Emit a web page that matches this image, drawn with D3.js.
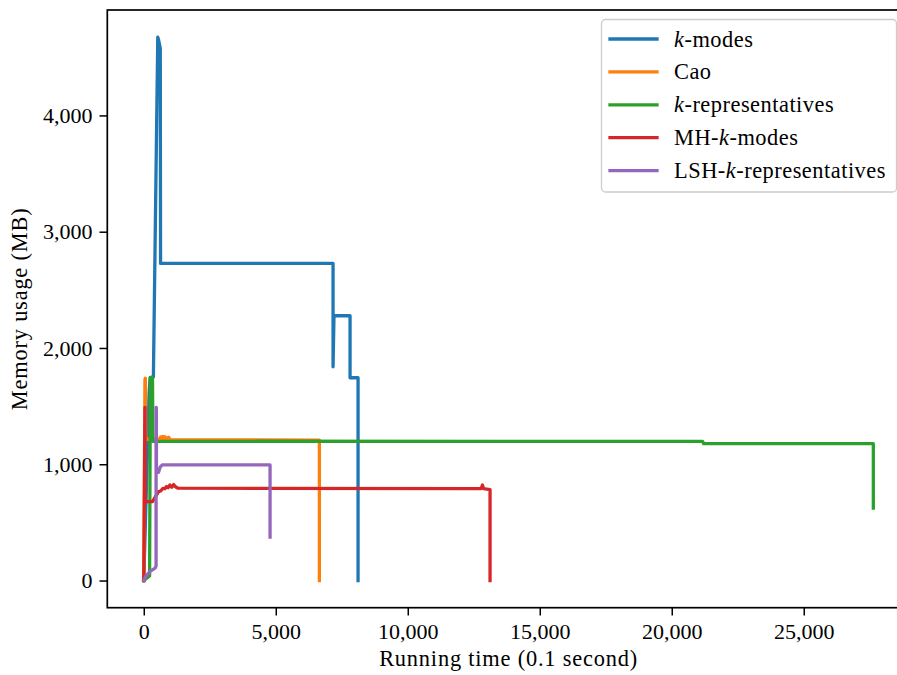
<!DOCTYPE html>
<html>
<head>
<meta charset="utf-8">
<script src="https://cdn.jsdelivr.net/npm/d3@7/dist/d3.min.js"></script>
<style>
  html, body { margin: 0; padding: 0; background: #fff; }
  svg { display: block; }
  text { font-family: "Liberation Serif", "DejaVu Serif", serif; fill: #000; }
</style>
</head>
<body>
<div id="chart"></div>
<script>
// Memory usage over running time for five clustering methods.
// Each series is a list of [time (0.1 s), memory (MB)] samples.
const seriesNames = ["k-modes", "Cao", "k-representatives", "MH-k-modes", "LSH-k-representatives"];
const seriesColors = ["#1f77b4", "#ff7f0e", "#2ca02c", "#d62728", "#9467bd"];

const kModes = [
  [0, 0], [200, 1600], [240, 1745], [364, 1750], [530, 4673], [560, 4650],
  [625, 4576], [636, 2727], [7170, 2727], [7170, 1838], [7205, 2277],
  [7814, 2277], [7814, 1744], [8117, 1744], [8117, 0]
];
const cao = [
  [0, 0], [45, 1730], [60, 1739], [75, 1215], [600, 1215], [640, 1235],
  [680, 1215], [720, 1238], [760, 1215], [800, 1236], [860, 1218], [940, 1232],
  [1000, 1212], [6652, 1208], [6652, 0]
];
const kReps = [
  [0, 0], [220, 40], [250, 1747], [330, 1747], [345, 1198], [21170, 1196],
  [21210, 1177], [27636, 1177], [27636, 622]
];
const mhKModes = [
  [0, 0], [45, 1489], [55, 679], [330, 679], [560, 765], [640, 770],
  [720, 792], [800, 790], [860, 808], [920, 798], [990, 822], [1060, 802],
  [1130, 825], [1200, 806], [1300, 794], [12780, 790], [12830, 822],
  [12870, 790], [13117, 782], [13117, 0]
];
const lshKReps = [
  [0, 0], [100, 45], [250, 80], [430, 106], [466, 125], [466, 1489],
  [475, 1489], [480, 925], [560, 930], [620, 975], [700, 994], [4784, 994],
  [4784, 373]
];
const seriesData = [kModes, cao, kReps, mhKModes, lshKReps];

const xTicks = [0, 5000, 10000, 15000, 20000, 25000];
const yTicks = [0, 1000, 2000, 3000, 4000];

const W = 897, H = 675;
const plot = { left: 107.3, right: 909.8, top: 10, bottom: 607.7 };
const FONT = 22.4;

const svg = d3.select("#chart").append("svg")
  .attr("width", W).attr("height", H);
svg.append("rect").attr("width", W).attr("height", H).attr("fill", "#fff");

// Axis limits follow the usual 5% padding around the data extent.
const xMax = d3.max(seriesData.flat(), d => d[0]);
const yMax = d3.max(seriesData.flat(), d => d[1]);
const x = d3.scaleLinear()
  .domain([-0.05 * xMax, xMax * 1.05])
  .range([plot.left, plot.right]);
const y = d3.scaleLinear()
  .domain([-0.05 * yMax, yMax * 1.05])
  .range([plot.bottom, plot.top]);

svg.append("clipPath").attr("id", "plotClip")
  .append("rect")
  .attr("x", plot.left).attr("y", plot.top)
  .attr("width", plot.right - plot.left).attr("height", plot.bottom - plot.top);

const line = d3.line().x(d => x(d[0])).y(d => y(d[1]));
const lines = svg.append("g").attr("clip-path", "url(#plotClip)");
seriesData.forEach((s, i) => {
  lines.append("path")
    .datum(s)
    .attr("d", line)
    .attr("fill", "none")
    .attr("stroke", seriesColors[i])
    .attr("stroke-width", 3.3)
    .attr("stroke-linejoin", "round")
    .attr("stroke-linecap", "square");
});

// Axes
const fmt = d3.format(",");
const xAxis = d3.axisBottom(x).tickValues(xTicks).tickFormat(fmt)
  .tickSize(7.8).tickPadding(7.5);
const yAxis = d3.axisLeft(y).tickValues(yTicks).tickFormat(fmt)
  .tickSize(7.8).tickPadding(7);

const gx = svg.append("g").attr("transform", `translate(0,${plot.bottom})`).call(xAxis);
const gy = svg.append("g").attr("transform", `translate(${plot.left},0)`).call(yAxis);
[gx, gy].forEach(g => {
  g.select(".domain").remove();
  g.selectAll(".tick line").attr("stroke", "#000").attr("stroke-width", 1.5);
  g.selectAll(".tick text").attr("font-size", 22).attr("fill", "#000")
    .style("font-family", '"Liberation Serif", "DejaVu Serif", serif');
});
gx.selectAll(".tick text").attr("dy", "0.71em");

// Frame
svg.append("rect")
  .attr("x", plot.left).attr("y", plot.top)
  .attr("width", plot.right - plot.left).attr("height", plot.bottom - plot.top)
  .attr("fill", "none").attr("stroke", "#000").attr("stroke-width", 1.7);

// Axis titles
svg.append("text")
  .attr("x", (plot.left + plot.right) / 2).attr("y", 666)
  .attr("text-anchor", "middle").attr("font-size", FONT)
  .attr("letter-spacing", 0.8)
  .text("Running time (0.1 second)");
svg.append("text")
  .attr("transform", `translate(27,${(plot.top + plot.bottom) / 2}) rotate(-90)`)
  .attr("text-anchor", "middle").attr("font-size", FONT)
  .attr("letter-spacing", 0.8)
  .text("Memory usage (MB)");

// Legend
const legend = svg.append("g");
legend.append("rect")
  .attr("x", 601.5).attr("y", 19.5).attr("width", 295).attr("height", 172.5)
  .attr("rx", 4).attr("fill", "#fff").attr("fill-opacity", 0.8)
  .attr("stroke", "#cccccc").attr("stroke-width", 1.3);
const rowY0 = 39, rowStep = 32.9;
seriesNames.forEach((name, i) => {
  const ry = rowY0 + i * rowStep;
  legend.append("line")
    .attr("x1", 610).attr("x2", 657).attr("y1", ry).attr("y2", ry)
    .attr("stroke", seriesColors[i]).attr("stroke-width", 3.3)
    .attr("stroke-linecap", "square");
  const t = legend.append("text").attr("x", 674).attr("y", ry + 7.5)
    .attr("font-size", FONT).attr("letter-spacing", 0.5);
  // italicise the variable k
  name.split(/(k)(?=-)/).forEach(part => {
    if (!part) return;
    const sp = t.append("tspan").text(part);
    if (part === "k") sp.attr("font-style", "italic");
  });
});
</script>
</body>
</html>
